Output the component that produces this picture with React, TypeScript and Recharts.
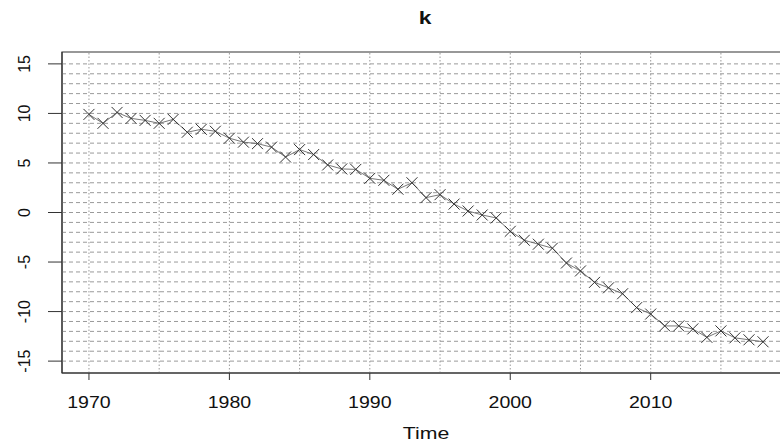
import React from 'react';
import { LineChart, Line, XAxis, YAxis, ReferenceLine, ReferenceArea } from 'recharts';

const years = [
  1970, 1971, 1972, 1973, 1974, 1975, 1976, 1977, 1978, 1979,
  1980, 1981, 1982, 1983, 1984, 1985, 1986, 1987, 1988, 1989,
  1990, 1991, 1992, 1993, 1994, 1995, 1996, 1997, 1998, 1999,
  2000, 2001, 2002, 2003, 2004, 2005, 2006, 2007, 2008, 2009,
  2010, 2011, 2012, 2013, 2014, 2015, 2016, 2017, 2018,
];
const kValues = [
  9.9, 9.0, 10.1, 9.5, 9.3, 9.0, 9.4, 8.1, 8.4, 8.2,
  7.5, 7.1, 6.95, 6.6, 5.6, 6.35, 5.85, 4.8, 4.4, 4.35,
  3.45, 3.25, 2.35, 3.0, 1.5, 1.8, 0.85, 0.15, -0.25, -0.55,
  -1.9, -2.8, -3.2, -3.6, -5.1, -5.9, -7.05, -7.6, -8.2, -9.6,
  -10.25, -11.45, -11.45, -11.75, -12.6, -11.95, -12.65, -12.85, -13.05,
];
const xTicks = [1970, 1980, 1990, 2000, 2010];
const yTicks = [-15, -10, -5, 0, 5, 10, 15];
const vGrid = [1970, 1975, 1980, 1985, 1990, 1995, 2000, 2005, 2010, 2015];
const hGrid = [
  -15, -14, -13, -12, -11, -10, -9, -8, -7, -6, -5, -4, -3, -2, -1, 0,
  1, 2, 3, 4, 5, 6, 7, 8, 9, 10, 11, 12, 13, 14, 15,
];

const data = years.map((year, i) => ({ year, k: kValues[i] }));

const FONT = '"Liberation Sans", Arial, sans-serif';
const X_DOMAIN = [1968.08, 2019.92];
const Y_DOMAIN = [-16.2, 16.2];

const Cross = (props: any) => {
  const { cx, cy } = props;
  if (cx == null || cy == null) return null;
  const r = 5.5;
  return (
    <g stroke="#333" strokeWidth={1}>
      <line x1={cx - r} y1={cy - r} x2={cx + r} y2={cy + r} />
      <line x1={cx - r} y1={cy + r} x2={cx + r} y2={cy - r} />
    </g>
  );
};

// R output was a bit stretched sideways, so widen the horizontal text
const XTick = (props: any) => {
  const { x, y, payload } = props;
  return (
    <text
      transform={`translate(${x}, ${y + 26}) scale(1.15, 1)`}
      textAnchor="middle"
      fontSize={17}
      fontFamily={FONT}
      fill="#111"
    >
      {payload.value}
    </text>
  );
};

const YTick = (props: any) => {
  const { x, y, payload } = props;
  const tx = x - 16;
  return (
    <text
      x={tx}
      y={y}
      transform={`rotate(-90, ${tx}, ${y})`}
      textAnchor="middle"
      fontSize={16}
      fontFamily={FONT}
      fill="#111"
    >
      {payload.value}
    </text>
  );
};

const TimeLabel = (props: any) => {
  const { viewBox } = props;
  const cx = viewBox.x + viewBox.width / 2;
  return (
    <text
      transform={`translate(${cx}, 439) scale(1.25, 1)`}
      textAnchor="middle"
      fontSize={17}
      fontFamily={FONT}
      fill="#111"
    >
      Time
    </text>
  );
};

export default function App() {
  return (
    <div style={{ position: 'absolute', left: 0, top: 0, width: 780, height: 443, overflow: 'hidden', background: '#fff' }}>
      <svg width={780} height={40} style={{ position: 'absolute', left: 0, top: 0 }}>
        <text
          transform="translate(425, 24) scale(1.2, 1)"
          textAnchor="middle"
          fontSize={19}
          fontWeight="bold"
          fontFamily={FONT}
          fill="#111"
        >
          k
        </text>
      </svg>
      <LineChart
        width={800}
        height={443}
        data={data}
        margin={{ top: 52, right: 10, left: 0, bottom: 0 }}
      >
        {hGrid.map((v) => (
          <ReferenceLine key={`h${v}`} y={v} stroke="#9a9a9a" strokeDasharray="4 3" strokeWidth={1} />
        ))}
        {vGrid.map((v) => (
          <ReferenceLine key={`v${v}`} x={v} stroke="#9a9a9a" strokeDasharray="1.5 2" strokeWidth={1} />
        ))}
        <XAxis
          dataKey="year"
          type="number"
          domain={X_DOMAIN}
          ticks={xTicks}
          allowDataOverflow
          height={70}
          tickSize={7}
          axisLine={{ stroke: '#333' }}
          tickLine={{ stroke: '#333' }}
          tick={<XTick />}
          label={<TimeLabel />}
        />
        <YAxis
          type="number"
          domain={Y_DOMAIN}
          ticks={yTicks}
          allowDataOverflow
          width={62}
          tickSize={14}
          axisLine={{ stroke: '#333' }}
          tickLine={{ stroke: '#333' }}
          tick={<YTick />}
        />
        <ReferenceArea
          x1={X_DOMAIN[0]}
          x2={X_DOMAIN[1]}
          y1={Y_DOMAIN[0]}
          y2={Y_DOMAIN[1]}
          fill="none"
          stroke="#333"
          strokeWidth={1.2}
          ifOverflow="visible"
        />
        <Line
          type="linear"
          dataKey="k"
          stroke="#555"
          strokeWidth={0.8}
          dot={<Cross />}
          activeDot={false}
          isAnimationActive={false}
        />
      </LineChart>
    </div>
  );
}
